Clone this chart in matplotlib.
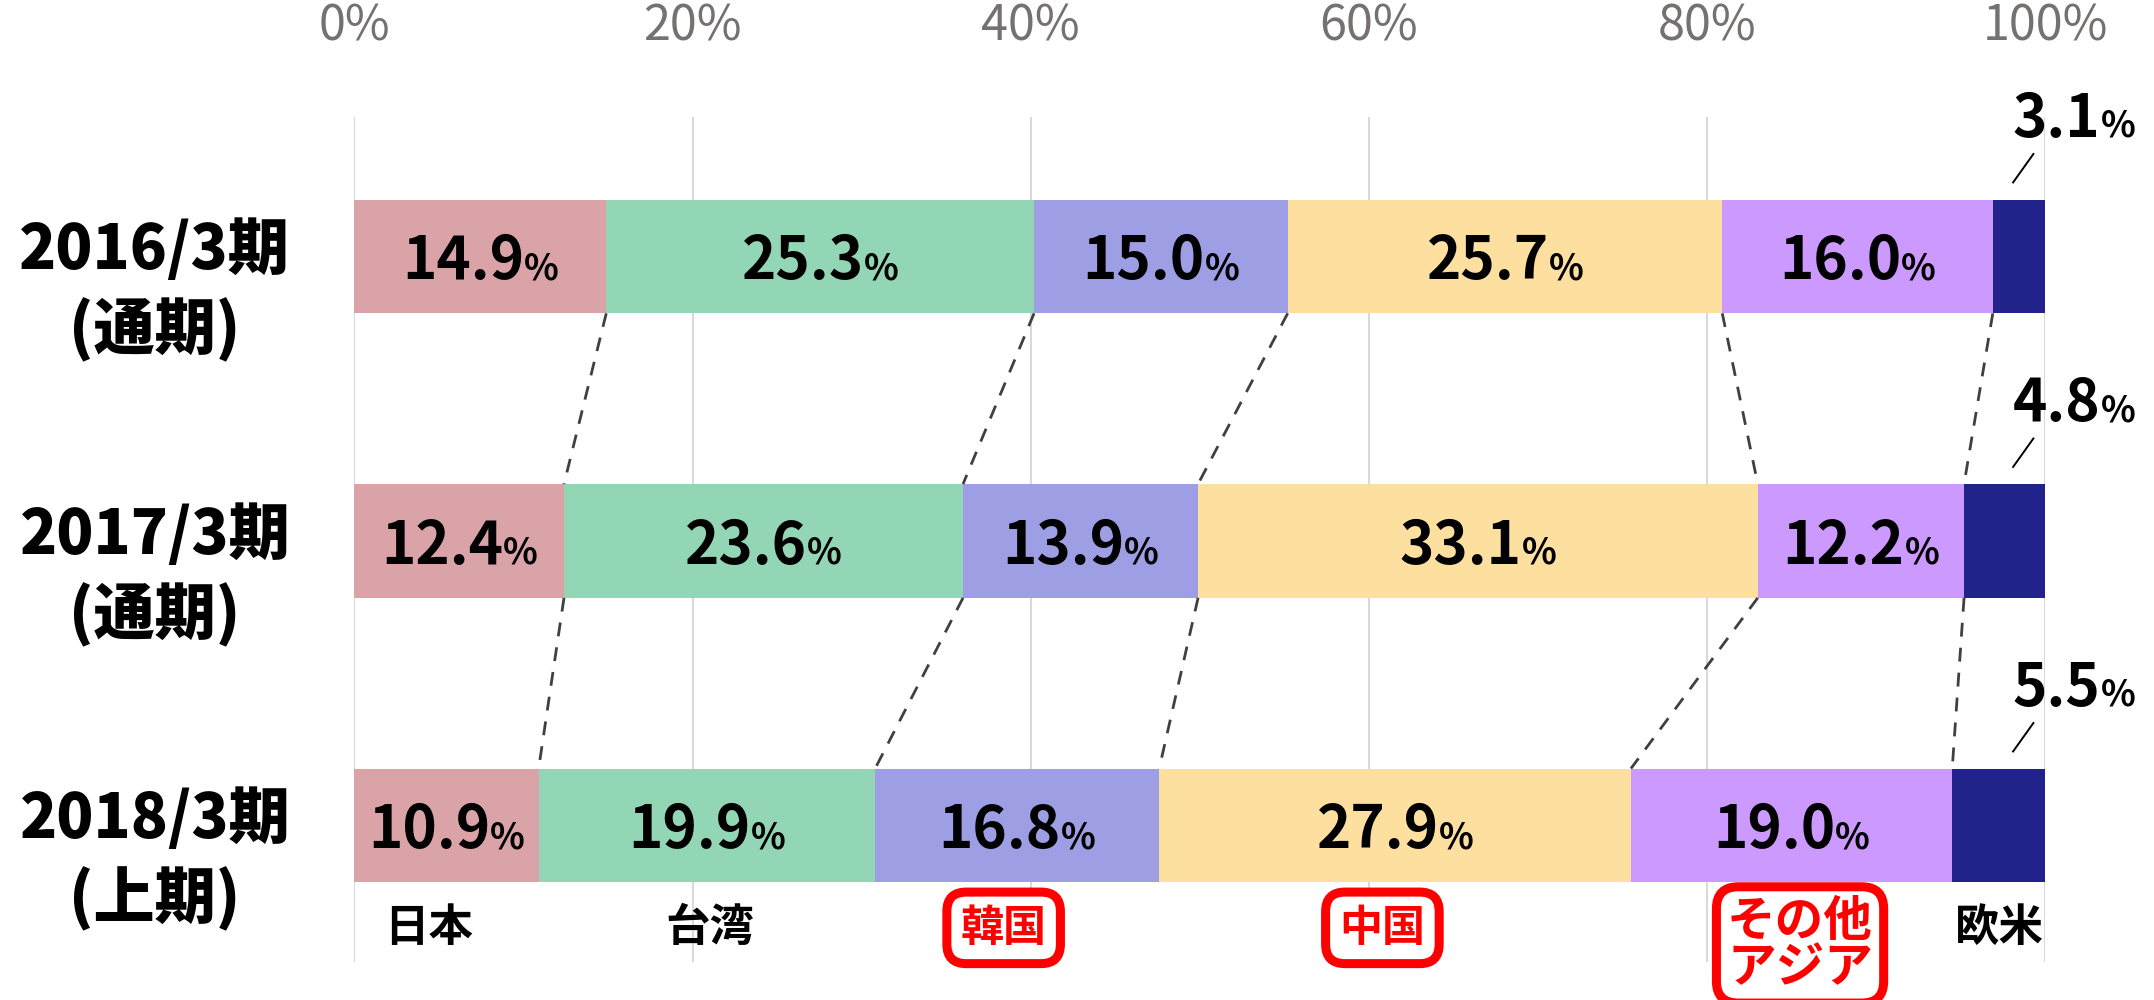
import matplotlib
matplotlib.use("Agg")
import matplotlib.pyplot as plt
from matplotlib.offsetbox import TextArea, HPacker, AnnotationBbox

plt.rcParams['font.family'] = ['Noto Sans CJK JP', 'DejaVu Sans']

# data
periods = ['2016/3期', '2017/3期', '2018/3期']
period_sub = ['(通期)', '(通期)', '(上期)']
regions = ['日本', '台湾', '韓国', '中国', 'その他\nアジア', '欧米']
japan = [14.9, 12.4, 10.9]
taiwan = [25.3, 23.6, 19.9]
korea = [15.0, 13.9, 16.8]
china = [25.7, 33.1, 27.9]
other_asia = [16.0, 12.2, 19.0]
europe_us = [3.1, 4.8, 5.5]
ticks = [0, 20, 40, 60, 80, 100]
tick_labels = ['0%', '20%', '40%', '60%', '80%', '100%']
label_x = [4.4, 21.0, 38.4, 60.8, 85.5, 97.3]
highlight = [False, False, True, True, True, False]

colors = ['#D9A3A8', '#93D6B6', '#9E9EE5', '#FDDFA0', '#CC99FF', '#22228B']
series = [japan, taiwan, korea, china, other_asia, europe_us]

fig = plt.figure(figsize=(21.54, 10), dpi=100)
ax = fig.add_axes([0.1645, 0.038, 0.785, 0.845])

ypos = list(range(len(periods)))
bar_h = 0.40

# stacked bars
lefts = [0.0] * len(periods)
bounds = []
for vals, col in zip(series, colors):
    ax.barh(ypos, vals, left=lefts, height=bar_h, color=col, zorder=2)
    lefts = [l + v for l, v in zip(lefts, vals)]
    bounds.append(list(lefts))


def pct_label(x, y, num):
    a = TextArea(num, textprops=dict(fontsize=42, fontweight='bold', color='black'))
    b = TextArea('%', textprops=dict(fontsize=26, fontweight='bold', color='black'))
    pack = HPacker(children=[a, b], align='baseline', pad=0, sep=0)
    ab = AnnotationBbox(pack, (x, y), xycoords='data', frameon=False,
                        box_alignment=(0.5, 0.5), pad=0, annotation_clip=False)
    ax.add_artist(ab)
    ab.set_zorder(5)


# value labels inside bars (all but the last series)
for k, vals in enumerate(series[:-1]):
    for i, v in enumerate(vals):
        start = bounds[k][i] - v
        pct_label(start + v / 2, ypos[i] + 0.02, f'{v:.1f}')

# small 欧米 values above bar with leader line
for i, v in enumerate(europe_us):
    pct_label(101.7, ypos[i] - 0.48, f'{v:.1f}')
    ax.plot([98.1, 99.3], [ypos[i] - 0.26, ypos[i] - 0.36], color='black',
            lw=1.4, zorder=4, clip_on=False)

# dashed connectors between bars
for k in range(len(series) - 1):
    for i in range(len(periods) - 1):
        ax.plot([bounds[k][i], bounds[k][i + 1]],
                [ypos[i] + bar_h / 2, ypos[i + 1] - bar_h / 2],
                color='#404040', lw=2.0, ls=(0, (5, 4)), zorder=3)

# period labels on left
for i, (p, s) in enumerate(zip(periods, period_sub)):
    ax.text(-11.8, ypos[i] - 0.02, p, fontsize=44, fontweight='heavy',
            ha='center', va='center', clip_on=False)
    ax.text(-11.8, ypos[i] + 0.26, s, fontsize=44, fontweight='heavy',
            ha='center', va='center', clip_on=False)

# region labels at bottom
for name, x, hl in zip(regions, label_x, highlight):
    if hl:
        two = '\n' in name
        pad = 0.22 if two else 0.32
        ax.text(x, 2.42 if two else 2.36, name, fontsize=35 if two else 31,
                fontweight='bold', color='#FF0000', ha='center', va='center',
                linespacing=0.92, clip_on=False, zorder=6,
                bbox=dict(boxstyle=f'round,pad={pad},rounding_size=0.45',
                          fc='white', ec='#FF0000', lw=6.5))
    else:
        ax.text(x, 2.36, name, fontsize=32, fontweight='bold', color='black',
                ha='center', va='center', clip_on=False, zorder=6)

ax.set_xlim(0, 100)
ax.set_ylim(2.48, -0.49)
ax.set_xticks(ticks)
ax.set_xticklabels(tick_labels)
ax.xaxis.tick_top()
ax.tick_params(axis='x', length=0, pad=47, labelsize=35, labelcolor='#767171')
ax.set_yticks([])
ax.grid(axis='x', color='#D9D9D9', lw=1.5, zorder=0)
ax.set_axisbelow(True)
for sp in ax.spines.values():
    sp.set_visible(False)

fig.savefig('out.png', dpi=100)
